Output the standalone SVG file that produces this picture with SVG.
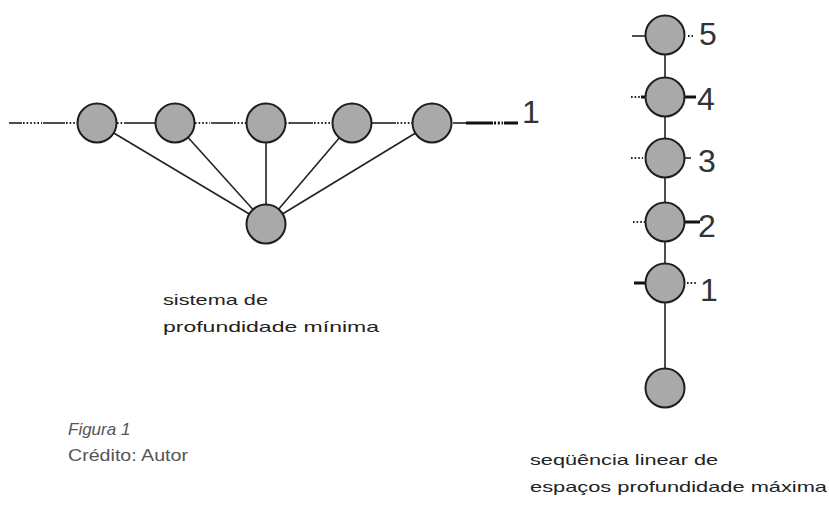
<svg xmlns="http://www.w3.org/2000/svg" width="829" height="505" viewBox="0 0 829 505">
<defs>
<style>
.node{fill:#a9a9a9;stroke:#1e1e1e;stroke-width:2}
.ln{stroke:#222;stroke-width:1.6;fill:none}
.thk{stroke:#111;stroke-width:3;fill:none}
.dot{stroke:#222;stroke-width:1.8;fill:none;stroke-dasharray:1.6 2}
.dotk{stroke:#111;stroke-width:3;fill:none;stroke-dasharray:2 1.8}
.num{font-family:"Liberation Sans",Arial,sans-serif;font-size:32px;fill:#333}
.lbl{font-family:"Liberation Sans",Arial,sans-serif;font-size:15px;fill:#222}
.cap{font-family:"Liberation Sans",Arial,sans-serif;font-size:17px;fill:#555}
</style>
</defs>
<rect width="829" height="505" fill="#fff"/>
<g id="connectors">
<!-- left row stubs -->
<line class="ln" x1="9" y1="123" x2="22" y2="123"/>
<line class="dot" x1="23" y1="123" x2="42" y2="123"/>
<line class="ln" x1="43" y1="123" x2="65" y2="123"/>
<line class="dot" x1="66" y1="123" x2="78" y2="123"/>
<line class="dot" x1="117" y1="123" x2="126" y2="123"/>
<line class="ln" x1="126" y1="123" x2="155" y2="123"/>
<line class="dot" x1="195" y1="123" x2="210" y2="123"/>
<line class="ln" x1="211" y1="123" x2="233" y2="123"/>
<line class="dot" x1="234" y1="123" x2="246" y2="123"/>
<line class="dot" x1="285" y1="123" x2="290" y2="123"/>
<line class="ln" x1="290" y1="123" x2="313" y2="123"/>
<line class="dot" x1="314" y1="123" x2="331" y2="123"/>
<line class="ln" x1="372" y1="123" x2="396" y2="123"/>
<line class="dot" x1="397" y1="123" x2="412" y2="123"/>
<line class="ln" x1="453" y1="123" x2="466" y2="123"/>
<line class="thk" x1="466" y1="123" x2="493" y2="123"/>
<line class="dotk" x1="494" y1="123" x2="503" y2="123"/>
<line class="thk" x1="504" y1="123" x2="518" y2="123"/>
<!-- fan lines -->
<line class="ln" x1="266" y1="224" x2="97" y2="123"/>
<line class="ln" x1="266" y1="224" x2="175" y2="123"/>
<line class="ln" x1="266" y1="224" x2="266" y2="123"/>
<line class="ln" x1="266" y1="224" x2="352" y2="123"/>
<line class="ln" x1="266" y1="224" x2="432" y2="123"/>
<!-- vertical sequence -->
<line class="ln" x1="665" y1="35" x2="665" y2="388"/>
<line class="ln" x1="632" y1="36" x2="646" y2="36"/>
<line class="dot" x1="688" y1="36" x2="693" y2="36"/>
<line class="dot" x1="631" y1="97" x2="641" y2="97"/>
<line class="thk" x1="641" y1="97" x2="647" y2="97"/>
<line class="thk" x1="684" y1="97" x2="696" y2="97"/>
<line class="dot" x1="631" y1="158" x2="643" y2="158"/>
<line class="ln" x1="684" y1="158" x2="691" y2="158"/>
<line class="dot" x1="633" y1="222" x2="646" y2="222"/>
<line class="thk" x1="684" y1="222" x2="700" y2="222"/>
<line class="thk" x1="634" y1="283" x2="645" y2="283"/>
<line class="dot" x1="687" y1="283" x2="697" y2="283"/>
</g>
<g id="n-top1"><circle class="node" cx="97" cy="123" r="19.5"/></g>
<g id="n-top2"><circle class="node" cx="175" cy="123" r="19.5"/></g>
<g id="n-top3"><circle class="node" cx="266" cy="123" r="19.5"/></g>
<g id="n-top4"><circle class="node" cx="352" cy="123" r="19.5"/></g>
<g id="n-top5"><circle class="node" cx="432" cy="123" r="19.5"/></g>
<g id="n-hub"><circle class="node" cx="266" cy="224" r="19.5"/></g>
<g id="n-s5"><circle class="node" cx="665" cy="35" r="19.5"/></g>
<g id="n-s4"><circle class="node" cx="665" cy="97" r="19.5"/></g>
<g id="n-s3"><circle class="node" cx="665" cy="158" r="19.5"/></g>
<g id="n-s2"><circle class="node" cx="665" cy="222" r="19.5"/></g>
<g id="n-s1"><circle class="node" cx="665" cy="283" r="19.5"/></g>
<g id="n-s0"><circle class="node" cx="665" cy="388" r="19.5"/></g>
<g id="labels">
<text class="num" x="522" y="123">1</text>
<text class="num" x="699" y="45">5</text>
<text class="num" x="697" y="110">4</text>
<text class="num" x="698" y="172">3</text>
<text class="num" x="698" y="237">2</text>
<text class="num" x="700" y="301">1</text>
<text class="lbl" x="163" y="305" textLength="105" lengthAdjust="spacingAndGlyphs">sistema de</text>
<text class="lbl" x="163" y="332" textLength="216" lengthAdjust="spacingAndGlyphs">profundidade mínima</text>
<text class="lbl" x="530" y="465" textLength="188" lengthAdjust="spacingAndGlyphs">seqüência linear de</text>
<text class="lbl" x="530" y="492" textLength="297" lengthAdjust="spacingAndGlyphs">espaços profundidade máxima</text>
<text class="cap" x="68" y="435" font-style="italic">Figura 1</text>
<text class="cap" x="68" y="461" textLength="120" lengthAdjust="spacingAndGlyphs">Crédito: Autor</text>
</g>
</svg>
